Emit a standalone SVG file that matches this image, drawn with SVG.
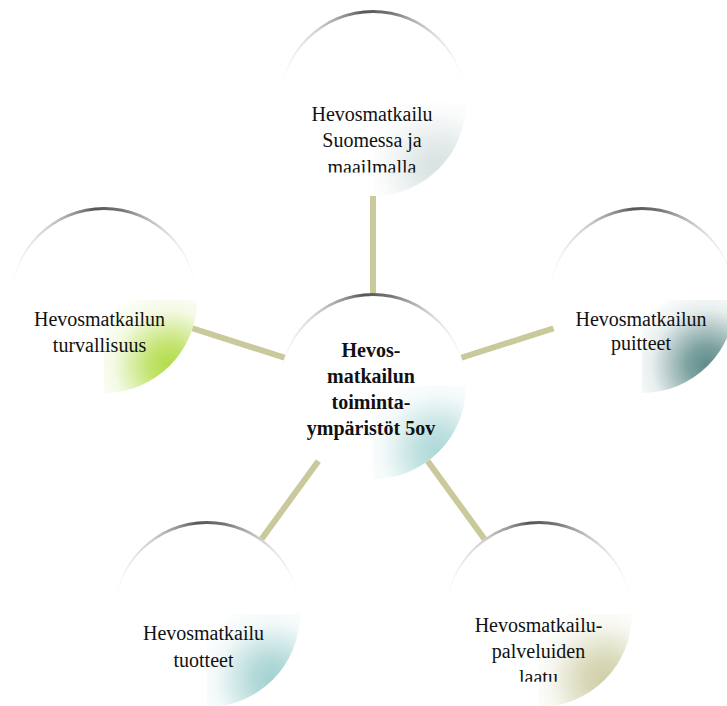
<svg xmlns="http://www.w3.org/2000/svg" width="727" height="706" viewBox="0 0 727 706">
<style>
.lbl{font-family:"Liberation Serif","Times New Roman",serif;font-size:20px;fill:#111;text-anchor:middle}
.b{font-weight:bold}
.disc{fill:#ffffff}
.rim{fill:url(#rimG)}
.conn{stroke:#c9c99b;stroke-width:6;fill:none}
</style>
<defs>
<linearGradient id="rimG" x1="0" y1="0" x2="1" y2="0">
<stop offset="0" stop-color="#999" stop-opacity="0"/>
<stop offset="0.2" stop-color="#999" stop-opacity="0.45"/>
<stop offset="0.45" stop-color="#555" stop-opacity="1"/>
<stop offset="0.6" stop-color="#666" stop-opacity="0.9"/>
<stop offset="0.85" stop-color="#aaa" stop-opacity="0.35"/>
<stop offset="1" stop-color="#bbb" stop-opacity="0"/>
</linearGradient>
<radialGradient id="gTop" cx="0.7" cy="0.7" r="0.85"><stop offset="0" stop-color="#d8e2e2"/><stop offset="0.25" stop-color="#d8e2e2" stop-opacity="0.8"/><stop offset="0.7" stop-color="#d8e2e2" stop-opacity="0.15"/><stop offset="1" stop-color="#d8e2e2" stop-opacity="0"/></radialGradient>
<radialGradient id="gCen" cx="0.7" cy="0.7" r="0.85"><stop offset="0" stop-color="#aed8d8"/><stop offset="0.25" stop-color="#aed8d8" stop-opacity="0.8"/><stop offset="0.7" stop-color="#aed8d8" stop-opacity="0.15"/><stop offset="1" stop-color="#aed8d8" stop-opacity="0"/></radialGradient>
<radialGradient id="gLeft" cx="0.7" cy="0.7" r="0.85"><stop offset="0" stop-color="#b3dc4a"/><stop offset="0.25" stop-color="#b3dc4a" stop-opacity="0.8"/><stop offset="0.7" stop-color="#b3dc4a" stop-opacity="0.15"/><stop offset="1" stop-color="#b3dc4a" stop-opacity="0"/></radialGradient>
<radialGradient id="gRight" cx="0.7" cy="0.7" r="0.85"><stop offset="0" stop-color="#5e8c8a"/><stop offset="0.25" stop-color="#5e8c8a" stop-opacity="0.8"/><stop offset="0.7" stop-color="#5e8c8a" stop-opacity="0.15"/><stop offset="1" stop-color="#5e8c8a" stop-opacity="0"/></radialGradient>
<radialGradient id="gBL" cx="0.7" cy="0.7" r="0.85"><stop offset="0" stop-color="#a3d1d1"/><stop offset="0.25" stop-color="#a3d1d1" stop-opacity="0.8"/><stop offset="0.7" stop-color="#a3d1d1" stop-opacity="0.15"/><stop offset="1" stop-color="#a3d1d1" stop-opacity="0"/></radialGradient>
<radialGradient id="gBR" cx="0.7" cy="0.7" r="0.85"><stop offset="0" stop-color="#cfcfa8"/><stop offset="0.25" stop-color="#cfcfa8" stop-opacity="0.8"/><stop offset="0.7" stop-color="#cfcfa8" stop-opacity="0.15"/><stop offset="1" stop-color="#cfcfa8" stop-opacity="0"/></radialGradient>
<clipPath id="clipTop"><rect x="250" y="80" width="250" height="92.5"/></clipPath>
<clipPath id="clipBR"><rect x="420" y="600" width="250" height="81.7"/></clipPath>
</defs>

<g id="connectors">
<line class="conn" x1="373" y1="386" x2="373" y2="103"/>
<line class="conn" x1="373" y1="386" x2="104" y2="300"/>
<line class="conn" x1="373" y1="386" x2="642" y2="300"/>
<line class="conn" x1="373" y1="386" x2="207" y2="614"/>
<line class="conn" x1="373" y1="386" x2="539" y2="614"/>
</g>

<g id="node-top">
<circle class="disc" cx="373" cy="103" r="93"/>
<path fill="url(#gTop)" d="M373,103 H466 A93,93 0 0 1 373,196 Z"/>
<path class="rim" d="M280,103 A93,93 0 0 1 466,103 L466,106 A93,93 0 0 0 280,106 Z"/>
<g clip-path="url(#clipTop)">
<text class="lbl" x="372" y="121">Hevosmatkailu</text>
<text class="lbl" x="372" y="147.3">Suomessa ja</text>
<text class="lbl" x="372" y="173.8">maailmalla</text>
</g>
</g>

<g id="node-center">
<circle class="disc" cx="373" cy="386" r="93"/>
<path fill="url(#gCen)" d="M373,386 H466 A93,93 0 0 1 373,479 Z"/>
<path class="rim" d="M280,386 A93,93 0 0 1 466,386 L466,389 A93,93 0 0 0 280,389 Z"/>
<text class="lbl b" x="371" y="356.5">Hevos-</text>
<text class="lbl b" x="371" y="382.5">matkailun</text>
<text class="lbl b" x="371" y="408.8">toiminta-</text>
<text class="lbl b" x="371" y="435">ympäristöt 5ov</text>
</g>

<g id="node-left">
<circle class="disc" cx="104" cy="300" r="93"/>
<path fill="url(#gLeft)" d="M104,300 H197 A93,93 0 0 1 104,393 Z"/>
<path class="rim" d="M11,300 A93,93 0 0 1 197,300 L197,303 A93,93 0 0 0 11,303 Z"/>
<text class="lbl" x="99.5" y="326">Hevosmatkailun</text>
<text class="lbl" x="99.5" y="352">turvallisuus</text>
</g>

<g id="node-right">
<circle class="disc" cx="642" cy="300" r="93"/>
<path fill="url(#gRight)" d="M642,300 H735 A93,93 0 0 1 642,393 Z"/>
<path class="rim" d="M549,300 A93,93 0 0 1 735,300 L735,303 A93,93 0 0 0 549,303 Z"/>
<text class="lbl" x="641" y="326">Hevosmatkailun</text>
<text class="lbl" x="641" y="350">puitteet</text>
</g>

<g id="node-bottom-left">
<circle class="disc" cx="207" cy="614" r="93"/>
<path fill="url(#gBL)" d="M207,614 H300 A93,93 0 0 1 207,707 Z"/>
<path class="rim" d="M114,614 A93,93 0 0 1 300,614 L300,617 A93,93 0 0 0 114,617 Z"/>
<text class="lbl" x="203.5" y="640">Hevosmatkailu</text>
<text class="lbl" x="203.5" y="666.5">tuotteet</text>
</g>

<g id="node-bottom-right">
<circle class="disc" cx="539" cy="614" r="93"/>
<path fill="url(#gBR)" d="M539,614 H632 A93,93 0 0 1 539,707 Z"/>
<path class="rim" d="M446,614 A93,93 0 0 1 632,614 L632,617 A93,93 0 0 0 446,617 Z"/>
<g clip-path="url(#clipBR)">
<text class="lbl" x="538.5" y="631.7">Hevosmatkailu-</text>
<text class="lbl" x="538.5" y="657.7">palveluiden</text>
<text class="lbl" x="538.5" y="683.5">laatu</text>
</g>
</g>
</svg>
